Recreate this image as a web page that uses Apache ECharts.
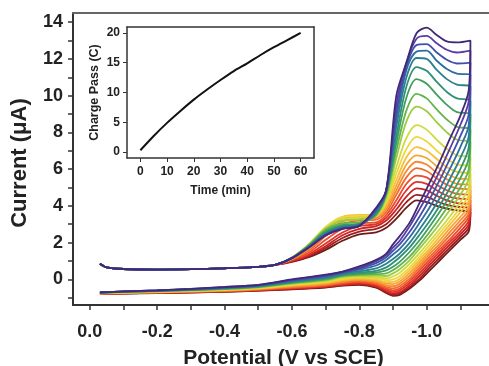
<!DOCTYPE html>
<html><head><meta charset="utf-8">
<script src="https://cdn.jsdelivr.net/npm/echarts@6/dist/echarts.min.js"></script>
<style>html,body{margin:0;padding:0;background:#fff}#c{width:489px;height:366px}</style>
</head><body><div id="c"></div>
<script>
// ---- Main CV data (potential in V vs SCE, current in µA) ----
const baseV = [-0.03, -0.05, -0.1, -0.2, -0.3, -0.4, -0.5, -0.55];
const baseI = [0.85, 0.65, 0.56, 0.53, 0.55, 0.6, 0.68, 0.78];
const fwdV = [-0.6, -0.65, -0.7, -0.75, -0.8, -0.85, -0.88, -0.91, -0.94, -0.97, -1.0, -1.03, -1.06, -1.09, -1.13];
const revV = [-1.125, -1.1, -1.07, -1.04, -1.01, -0.98, -0.95, -0.92, -0.9, -0.88, -0.85, -0.8, -0.75, -0.7, -0.6, -0.5, -0.4, -0.3, -0.2, -0.1, -0.03];

const fwd0  = [0.95, 1.2, 1.6, 2.1, 2.45, 2.55, 2.8, 3.3, 3.9, 4.3, 4.2, 4.0, 3.85, 3.75, 3.65];
const fwd1  = [0.97, 1.25, 1.7, 2.25, 2.6, 2.75, 3.0, 3.55, 4.2, 4.6, 4.5, 4.25, 4.05, 3.95, 3.85];
const fwd2  = [1.0, 1.3, 1.8, 2.4, 2.75, 2.9, 3.2, 3.8, 4.5, 4.95, 4.85, 4.55, 4.3, 4.15, 4.05];
const fwd3  = [1.02, 1.35, 1.95, 2.55, 2.9, 3.0, 3.35, 4.05, 4.85, 5.3, 5.2, 4.85, 4.55, 4.4, 4.3];
const fwd4  = [1.05, 1.45, 2.15, 2.75, 3.05, 3.1, 3.5, 4.3, 5.2, 5.65, 5.55, 5.15, 4.85, 4.65, 4.55];
const fwd5  = [1.08, 1.55, 2.35, 3.0, 3.2, 3.25, 3.65, 4.6, 5.55, 6.05, 5.9, 5.5, 5.15, 4.95, 4.85];
const fwd6  = [1.1, 1.65, 2.5, 3.15, 3.3, 3.35, 3.8, 4.85, 5.9, 6.4, 6.25, 5.8, 5.45, 5.2, 5.1];
const fwd7  = [1.12, 1.75, 2.65, 3.3, 3.4, 3.45, 3.95, 5.1, 6.25, 6.75, 6.6, 6.15, 5.75, 5.5, 5.4];
const fwd8  = [1.15, 1.85, 2.8, 3.4, 3.5, 3.5, 4.1, 5.4, 6.65, 7.2, 7.0, 6.55, 6.1, 5.85, 5.7];
const fwd9  = [1.17, 1.9, 2.85, 3.4, 3.45, 3.5, 4.2, 5.75, 7.1, 7.75, 7.5, 7.0, 6.55, 6.25, 6.1];
const fwd10 = [1.18, 1.9, 2.8, 3.3, 3.35, 3.5, 4.35, 6.1, 7.7, 8.4, 8.15, 7.6, 7.1, 6.75, 6.6];
const fwd11 = [1.18, 1.88, 2.75, 3.2, 3.25, 3.5, 4.5, 6.6, 8.6, 9.4, 9.15, 8.55, 8.0, 7.6, 7.45];
const fwd12 = [1.17, 1.85, 2.7, 3.05, 3.1, 3.5, 4.6, 7.0, 9.2, 10.1, 9.85, 9.25, 8.7, 8.3, 8.15];
const fwd13 = [1.16, 1.82, 2.6, 2.95, 3.0, 3.55, 4.7, 7.4, 9.9, 10.9, 10.65, 10.05, 9.5, 9.1, 9.0];
const fwd14 = [1.16, 1.8, 2.55, 2.9, 3.0, 3.6, 4.75, 7.8, 10.5, 11.55, 11.35, 10.75, 10.2, 9.85, 9.7];
const fwd15 = [1.15, 1.78, 2.5, 2.85, 2.95, 3.7, 4.8, 8.3, 11.0, 12.05, 12.0, 11.4, 10.9, 10.6, 10.5];
const fwd16 = [1.15, 1.76, 2.45, 2.8, 2.95, 3.75, 4.85, 8.7, 11.4, 12.4, 12.45, 11.9, 11.45, 11.2, 11.15];
const fwd17 = [1.15, 1.75, 2.42, 2.78, 2.92, 3.8, 4.85, 9.1, 11.6, 12.75, 12.8, 12.35, 11.95, 11.75, 11.8];
const fwd18 = [1.15, 1.74, 2.4, 2.76, 2.9, 3.85, 4.85, 9.5, 11.8, 13.1, 13.25, 12.85, 12.5, 12.35, 12.45];
const fwd19 = [1.15, 1.72, 2.38, 2.74, 2.9, 3.9, 4.85, 10.0, 11.8, 13.4, 13.7, 13.3, 12.95, 12.9, 13.0];

const rev0  = [2.6, 2.15, 1.6, 1.05, 0.5, -0.05, -0.5, -0.85, -0.9, -0.75, -0.45, -0.3, -0.35, -0.45, -0.55, -0.62, -0.68, -0.72, -0.75, -0.78, -0.8];
const rev1  = [2.8, 2.3, 1.75, 1.2, 0.65, 0.05, -0.42, -0.78, -0.85, -0.7, -0.42, -0.28, -0.33, -0.43, -0.53, -0.61, -0.67, -0.71, -0.74, -0.77, -0.79];
const rev2  = [3.0, 2.45, 1.9, 1.35, 0.8, 0.2, -0.32, -0.7, -0.78, -0.65, -0.38, -0.25, -0.3, -0.4, -0.5, -0.6, -0.66, -0.7, -0.74, -0.77, -0.79];
const rev3  = [3.2, 2.6, 2.05, 1.5, 0.95, 0.35, -0.2, -0.6, -0.7, -0.58, -0.33, -0.2, -0.27, -0.38, -0.48, -0.58, -0.65, -0.69, -0.73, -0.76, -0.78];
const rev4  = [3.4, 2.8, 2.2, 1.65, 1.1, 0.5, -0.08, -0.5, -0.6, -0.5, -0.28, -0.15, -0.22, -0.35, -0.46, -0.57, -0.64, -0.68, -0.72, -0.76, -0.78];
const rev5  = [3.6, 3.0, 2.4, 1.8, 1.25, 0.65, 0.05, -0.38, -0.5, -0.42, -0.22, -0.1, -0.18, -0.31, -0.43, -0.55, -0.62, -0.67, -0.71, -0.75, -0.77];
const rev6  = [3.8, 3.2, 2.6, 1.95, 1.4, 0.8, 0.2, -0.25, -0.38, -0.33, -0.15, -0.05, -0.13, -0.27, -0.4, -0.53, -0.61, -0.66, -0.7, -0.74, -0.77];
const rev7  = [4.0, 3.4, 2.8, 2.15, 1.55, 0.95, 0.35, -0.12, -0.26, -0.24, -0.08, 0.0, -0.08, -0.22, -0.36, -0.52, -0.6, -0.65, -0.69, -0.73, -0.76];
const rev8  = [4.3, 3.65, 3.0, 2.35, 1.7, 1.1, 0.5, 0.02, -0.14, -0.15, -0.02, 0.05, -0.03, -0.18, -0.33, -0.5, -0.58, -0.64, -0.68, -0.72, -0.76];
const rev9  = [4.6, 3.9, 3.2, 2.55, 1.9, 1.25, 0.65, 0.17, 0.0, -0.05, 0.05, 0.1, 0.02, -0.14, -0.3, -0.48, -0.57, -0.63, -0.67, -0.72, -0.75];
const rev10 = [5.0, 4.2, 3.45, 2.75, 2.1, 1.45, 0.85, 0.35, 0.15, 0.05, 0.12, 0.15, 0.08, -0.1, -0.27, -0.46, -0.55, -0.61, -0.66, -0.71, -0.75];
const rev11 = [5.5, 4.6, 3.8, 3.05, 2.35, 1.7, 1.05, 0.55, 0.32, 0.18, 0.2, 0.2, 0.13, -0.06, -0.24, -0.44, -0.54, -0.6, -0.65, -0.7, -0.74];
const rev12 = [6.0, 5.0, 4.15, 3.35, 2.6, 1.9, 1.25, 0.75, 0.5, 0.32, 0.28, 0.25, 0.18, -0.02, -0.21, -0.42, -0.52, -0.59, -0.64, -0.69, -0.74];
const rev13 = [6.6, 5.5, 4.55, 3.7, 2.9, 2.15, 1.5, 0.95, 0.68, 0.48, 0.36, 0.3, 0.22, 0.02, -0.18, -0.4, -0.5, -0.58, -0.63, -0.68, -0.73];
const rev14 = [7.2, 6.0, 5.0, 4.05, 3.2, 2.45, 1.75, 1.2, 0.9, 0.65, 0.46, 0.36, 0.26, 0.06, -0.15, -0.38, -0.49, -0.57, -0.63, -0.68, -0.73];
const rev15 = [7.8, 6.6, 5.5, 4.45, 3.55, 2.75, 2.0, 1.4, 1.1, 0.85, 0.6, 0.44, 0.3, 0.1, -0.12, -0.36, -0.47, -0.56, -0.62, -0.67, -0.72];
const rev16 = [8.4, 7.2, 6.05, 4.95, 3.95, 3.1, 2.3, 1.65, 1.35, 1.05, 0.75, 0.52, 0.34, 0.14, -0.09, -0.34, -0.46, -0.55, -0.61, -0.67, -0.72];
const rev17 = [9.0, 7.8, 6.6, 5.45, 4.4, 3.45, 2.6, 1.9, 1.55, 1.2, 0.88, 0.58, 0.37, 0.18, -0.06, -0.33, -0.44, -0.54, -0.61, -0.66, -0.72];
const rev18 = [9.7, 8.4, 7.15, 5.95, 4.85, 3.85, 2.9, 2.1, 1.72, 1.32, 0.98, 0.62, 0.4, 0.22, -0.03, -0.31, -0.43, -0.53, -0.6, -0.66, -0.71];
const rev19 = [10.3, 8.9, 7.7, 6.45, 5.3, 4.2, 3.1, 2.35, 1.9, 1.4, 1.06, 0.7, 0.42, 0.25, 0.0, -0.3, -0.42, -0.52, -0.6, -0.66, -0.71];

const fwdCurves = [fwd0, fwd1, fwd2, fwd3, fwd4, fwd5, fwd6, fwd7, fwd8, fwd9, fwd10, fwd11, fwd12, fwd13, fwd14, fwd15, fwd16, fwd17, fwd18, fwd19];
const revCurves = [rev0, rev1, rev2, rev3, rev4, rev5, rev6, rev7, rev8, rev9, rev10, rev11, rev12, rev13, rev14, rev15, rev16, rev17, rev18, rev19];
const curveColors = ['#6b1d17','#9e1f1f','#c82424','#e0312a','#ea4c2c','#f26a2f','#f58a32','#f7a634','#f6c038','#efd63b','#cfdb3d','#9ccc42','#63b44c','#3f9f5e','#2f9077','#2a818e','#2e6ea3','#4150aa','#5b3ca3','#3f2a78'];

// ---- Inset data ----
const insetTime   = [0, 5, 10, 15, 20, 25, 30, 35, 40, 45, 50, 55, 60];
const insetCharge = [0.3, 2.7, 4.9, 6.9, 8.8, 10.5, 12.1, 13.6, 14.9, 16.3, 17.6, 18.8, 20.0];

// ---- Tick values ----
const xTickLabels = [0, -0.2, -0.4, -0.6, -0.8, -1.0];
const xTicks = [0, -0.1, -0.2, -0.3, -0.4, -0.5, -0.6, -0.7, -0.8, -0.9, -1.0, -1.1];
const yTickLabels = [0, 2, 4, 6, 8, 10, 12, 14];
const yTicks = [-1, 0, 1, 2, 3, 4, 5, 6, 7, 8, 9, 10, 11, 12, 13, 14];
const insetXTicks = [0, 10, 20, 30, 40, 50, 60];
const insetYTicks = [0, 5, 10, 15, 20];

const FONT = '"Liberation Sans", Arial, sans-serif';
const chart = echarts.init(document.getElementById('c'), null, {renderer: 'canvas'});

const series = [];
for (let k = 0; k < fwdCurves.length; k++) {
  const pts = [];
  baseV.forEach((v, j) => pts.push([v, baseI[j]]));
  fwdV.forEach((v, j) => pts.push([v, fwdCurves[k][j]]));
  revV.forEach((v, j) => pts.push([v, revCurves[k][j]]));
  series.push({
    type: 'line', xAxisIndex: 0, yAxisIndex: 0, data: pts,
    showSymbol: false, smooth: 0.3, silent: true,
    lineStyle: {width: 1.8, color: curveColors[k]}, itemStyle: {color: curveColors[k]}
  });
}
series.push({
  type: 'line', xAxisIndex: 2, yAxisIndex: 2,
  data: insetTime.map((t, j) => [t, insetCharge[j]]),
  showSymbol: false, smooth: 0.3, silent: true,
  lineStyle: {width: 2, color: '#111'}, itemStyle: {color: '#111'}
});

const axisTxt = {color: '#222', fontWeight: 'bold', fontFamily: FONT};
const line = (c, w) => ({show: true, onZero: false, lineStyle: {color: c, width: w}});

chart.setOption({
  animation: false,
  backgroundColor: '#ffffff',
  grid: [
    {left: 73, top: 13, right: -5, bottom: 61, containLabel: false, outerBoundsMode: 'none'},
    {left: 127, top: 27, right: 175, bottom: 208, containLabel: false, outerBoundsMode: 'none'}
  ],
  xAxis: [
    {type: 'value', gridIndex: 0, inverse: true, min: -1.2, max: 0.05, position: 'bottom',
     axisLine: line('#333', 2),
     axisTick: {show: true, length: 5, customValues: xTicks, lineStyle: {color: '#333', width: 1.5}},
     axisLabel: Object.assign({fontSize: 18, margin: 18, customValues: xTickLabels, formatter: v => Number(v).toFixed(1)}, axisTxt),
     splitLine: {show: false},
     name: 'Potential (V vs SCE)', nameLocation: 'middle', nameGap: 43,
     nameTextStyle: Object.assign({fontSize: 21}, axisTxt)},
    {type: 'value', gridIndex: 0, inverse: true, min: -1.2, max: 0.05, position: 'top',
     axisLine: line('#666', 2),
     axisTick: {show: false}, axisLabel: {show: false}, splitLine: {show: false}},
    {type: 'value', gridIndex: 1, min: -5, max: 65, position: 'bottom',
     axisLine: line('#333', 1.5),
     axisTick: {show: true, length: 4, customValues: insetXTicks, lineStyle: {color: '#333'}},
     axisLabel: Object.assign({fontSize: 12, margin: 8, customValues: insetXTicks}, axisTxt),
     splitLine: {show: false},
     name: 'Time (min)', nameLocation: 'middle', nameGap: 27,
     nameTextStyle: Object.assign({fontSize: 12}, axisTxt)},
    {type: 'value', gridIndex: 1, min: -5, max: 65, position: 'top',
     axisLine: line('#333', 1.5),
     axisTick: {show: false}, axisLabel: {show: false}, splitLine: {show: false}}
  ],
  yAxis: [
    {type: 'value', gridIndex: 0, min: -1.4, max: 14.5, position: 'left',
     axisLine: line('#333', 2),
     axisTick: {show: true, length: 5, customValues: yTicks, lineStyle: {color: '#333', width: 1.5}},
     axisLabel: Object.assign({fontSize: 18, margin: 10, customValues: yTickLabels}, axisTxt),
     splitLine: {show: false},
     name: 'Current (\u03bcA)', nameLocation: 'middle', nameGap: 42, nameRotate: 90,
     nameTextStyle: Object.assign({fontSize: 22, padding: [0, 0, 0, -8]}, axisTxt)},
    {type: 'value', gridIndex: 0, min: -1.4, max: 14.5, position: 'right',
     axisLine: {show: false}, axisTick: {show: false}, axisLabel: {show: false}, splitLine: {show: false}},
    {type: 'value', gridIndex: 1, min: -1, max: 21, position: 'left',
     axisLine: line('#333', 1.5),
     axisTick: {show: true, length: 4, customValues: insetYTicks, lineStyle: {color: '#333'}},
     axisLabel: Object.assign({fontSize: 12, margin: 7, customValues: insetYTicks}, axisTxt),
     splitLine: {show: false},
     name: 'Charge Pass (C)', nameLocation: 'middle', nameGap: 26, nameRotate: 90,
     nameTextStyle: Object.assign({fontSize: 12.5}, axisTxt)},
    {type: 'value', gridIndex: 1, min: -1, max: 21, position: 'right',
     axisLine: line('#333', 1.5),
     axisTick: {show: false}, axisLabel: {show: false}, splitLine: {show: false}}
  ],
  series: series
});
</script></body></html>
